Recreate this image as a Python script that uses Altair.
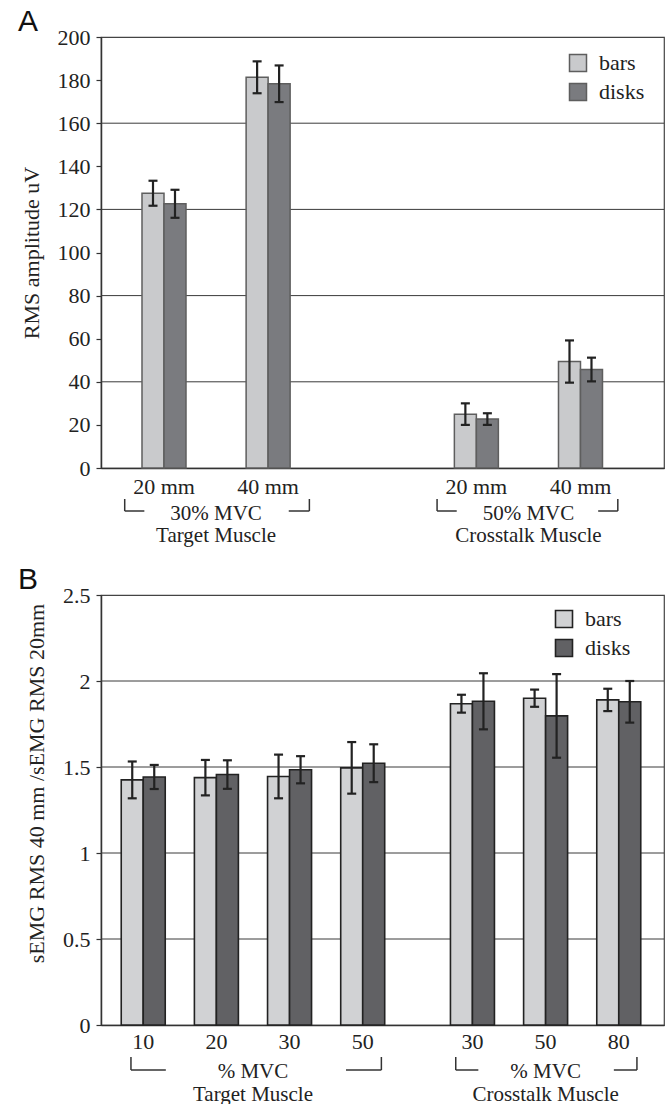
import altair as alt
import pandas as pd

FONT = "Liberation Serif, Times New Roman, serif"
W = 563

# ---------------- Panel A data ----------------
a_labels = ["20 mm", "40 mm", "20 mm", "40 mm"]
a_group_of = [0, 0, 1, 1]
a_group_top = ["30% MVC", "50% MVC"]
a_group_bottom = ["Target Muscle", "Crosstalk Muscle"]
a_bars = [127.5, 181.3, 25.0, 49.4]
a_bars_err = [5.8, 7.4, 5.0, 9.8]
a_disks = [122.6, 178.3, 22.7, 45.7]
a_disks_err = [6.5, 8.5, 2.7, 5.5]
a_ticks = [0, 20, 40, 60, 80, 100, 120, 140, 160, 180, 200]
a_grid = [40, 80, 120, 160]

# ---------------- Panel B data ----------------
b_labels = ["10", "20", "30", "50", "30", "50", "80"]
b_group_of = [0, 0, 0, 0, 1, 1, 1]
b_group_top = ["% MVC", "% MVC"]
b_group_bottom = ["Target Muscle", "Crosstalk Muscle"]
b_bars = [1.425, 1.438, 1.445, 1.495, 1.868, 1.900, 1.890]
b_bars_err = [0.107, 0.103, 0.127, 0.150, 0.052, 0.050, 0.065]
b_disks = [1.442, 1.456, 1.484, 1.522, 1.882, 1.797, 1.879]
b_disks_err = [0.070, 0.083, 0.079, 0.110, 0.163, 0.243, 0.121]
b_ticks = [0, 0.5, 1, 1.5, 2, 2.5]
b_grid = [0.5, 1, 1.5, 2]

SERIES = ["bars", "disks"]


def panel(letter, labels, group_of, gtop, gbot, bars, bars_err, disks, disks_err,
          ticks, grid, ymax, ytitle, H, gap, left_pad, right_pad, colors, bar_stroke,
          bar_sw, legend_xy, brackets, title_x, title_y, lab_dy, grp_dy, line_h, br_y):
    slots = [i + gap * g for i, g in enumerate(group_of)]
    xdom = [-left_pad, slots[-1] + right_pad]
    step = W / (xdom[1] - xdom[0])

    rows = []
    for i, s in enumerate(slots):
        for name, v, e in (("bars", bars[i], bars_err[i]), ("disks", disks[i], disks_err[i])):
            rows.append(dict(slot=s, series=name, value=v, lo=v - e, hi=v + e))
    df = pd.DataFrame(rows)
    lab_df = pd.DataFrame(dict(slot=slots, label=labels))
    grp_rows = []
    br_v, br_h = [], []
    for g in (0, 1):
        gs = [s for s, gg in zip(slots, group_of) if gg == g]
        grp_rows.append(dict(slot=sum(gs) / len(gs), text=[gtop[g], gbot[g]]))
        l1, l2, r1, r2 = brackets[g]
        br_v += [dict(slot=gs[0] + l1 / step), dict(slot=gs[-1] + r2 / step)]
        br_h += [dict(slot=gs[0] + l1 / step, slot2=gs[0] + l2 / step),
                 dict(slot=gs[-1] + r1 / step, slot2=gs[-1] + r2 / step)]
    grp_df = pd.DataFrame(grp_rows)

    xsc = alt.Scale(domain=xdom, nice=False, zero=False)
    ysc = alt.Scale(domain=[0, ymax], nice=False)
    xaxis = alt.Axis(labels=False, ticks=False, grid=False, title=None,
                     domainColor="#333", domainWidth=1.5)
    yaxis = alt.Axis(values=ticks, format="~r", grid=False, tickSize=5,
                     tickColor="#333", tickWidth=1.2, domainColor="#333", domainWidth=1.5,
                     labelFont=FONT, labelFontSize=22, labelColor="#222", labelPadding=6,
                     title=ytitle, titleFont=FONT, titleFontSize=22,
                     titleFontWeight="normal", titleColor="#222",
                     titleX=title_x, titleY=title_y, titleBaseline="middle",
                     titleAngle=270)

    X = alt.X("slot:Q", scale=xsc, axis=xaxis)

    gridl = alt.Chart(pd.DataFrame(dict(g=grid))).mark_rule(
        color="#3a3a3a", strokeWidth=1).encode(
        y=alt.Y("g:Q", scale=ysc, axis=yaxis), x=alt.value(0), x2=alt.value(W))

    layers = [gridl]
    color = alt.Color("series:N", scale=alt.Scale(domain=SERIES, range=colors),
                      legend=alt.Legend(title=None, orient="none",
                                        legendX=legend_xy[0], legendY=legend_xy[1],
                                        symbolType="square", symbolSize=289,
                                        symbolStrokeColor=bar_stroke, symbolStrokeWidth=bar_sw,
                                        symbolOpacity=1, labelFont=FONT, labelFontSize=22,
                                        labelColor="#222", labelOffset=10, rowPadding=5,
                                        padding=0))
    for name, off in (("bars", -11), ("disks", 11)):
        sub = alt.Chart(df).transform_filter(alt.datum.series == name)
        layers.append(sub.mark_bar(size=22, xOffset=off, stroke=bar_stroke,
                                   strokeWidth=bar_sw, opacity=1).encode(
            x=X, y=alt.Y("value:Q", scale=ysc, axis=yaxis), color=color))
        layers.append(sub.mark_rule(xOffset=off, color="#222", strokeWidth=2.2).encode(
            x=X, y=alt.Y("lo:Q", scale=ysc, axis=yaxis), y2="hi:Q"))
        for f in ("lo", "hi"):
            layers.append(sub.mark_tick(orient="horizontal", xOffset=off, size=9,
                                        thickness=2.2, color="#222", opacity=1).encode(
                x=X, y=alt.Y(f + ":Q", scale=ysc, axis=yaxis)))

    txt = dict(font=FONT, color="#222", align="center", baseline="alphabetic")
    layers.append(alt.Chart(lab_df).mark_text(fontSize=22, **txt).encode(
        x=X, y=alt.value(H + lab_dy), text="label:N"))
    layers.append(alt.Chart(grp_df).mark_text(fontSize=21, lineHeight=line_h, **txt).encode(
        x=X, y=alt.value(H + grp_dy), text="text"))
    layers.append(alt.Chart(pd.DataFrame(br_v)).mark_rule(color="#333", strokeWidth=1.5).encode(
        x=X, y=alt.value(H + br_y[0]), y2=alt.value(H + br_y[1])))
    layers.append(alt.Chart(pd.DataFrame(br_h)).mark_rule(color="#333", strokeWidth=1.5).encode(
        x=X, x2="slot2:Q", y=alt.value(H + br_y[1])))
    layers.append(alt.Chart(pd.DataFrame(dict(t=[letter]))).mark_text(
        font="Liberation Sans", fontSize=30, color="#111", align="left",
        baseline="alphabetic").encode(x=alt.value(-83), y=alt.value(-6), text="t:N"))

    return alt.layer(*layers).properties(width=W, height=H)


pa = panel("A", a_labels, a_group_of, a_group_top, a_group_bottom, a_bars, a_bars_err,
           a_disks, a_disks_err, a_ticks, a_grid, 200, "RMS amplitude uV", 431, 1.0,
           0.557, 0.754, ["#c9cacc", "#7a7b7f"], "#5e5e5e", 1.5, (466, 15),
           [(-40, -20, 21, 42), (-40, -20, 18, 38)], -70, 215.5, 26, 51.7, 22.5, (31, 43))

pb = panel("B", b_labels, b_group_of, b_group_top, b_group_bottom, b_bars, b_bars_err,
           b_disks, b_disks_err, b_ticks, b_grid, 2.5, "sEMG RMS 40 mm /sEMG RMS 20mm", 430,
           0.5, 0.509, 0.55, ["#d1d2d4", "#616164"], "#222", 1.6, (452, 13),
           [(-12.5, 23, -17, 19), (-17, 6, -5, 18.5)], -65, 188, 24, 52.5, 23, (32, 45))

chart = alt.vconcat(pa, pb, spacing=17).resolve_scale(color="independent").configure(
    padding={"top": 6, "left": 17, "right": 0, "bottom": 0},
    background="white").configure_view(stroke="#444", strokeWidth=1.2)

chart.save("out.html", embed_options={"renderer": "svg", "actions": False})
